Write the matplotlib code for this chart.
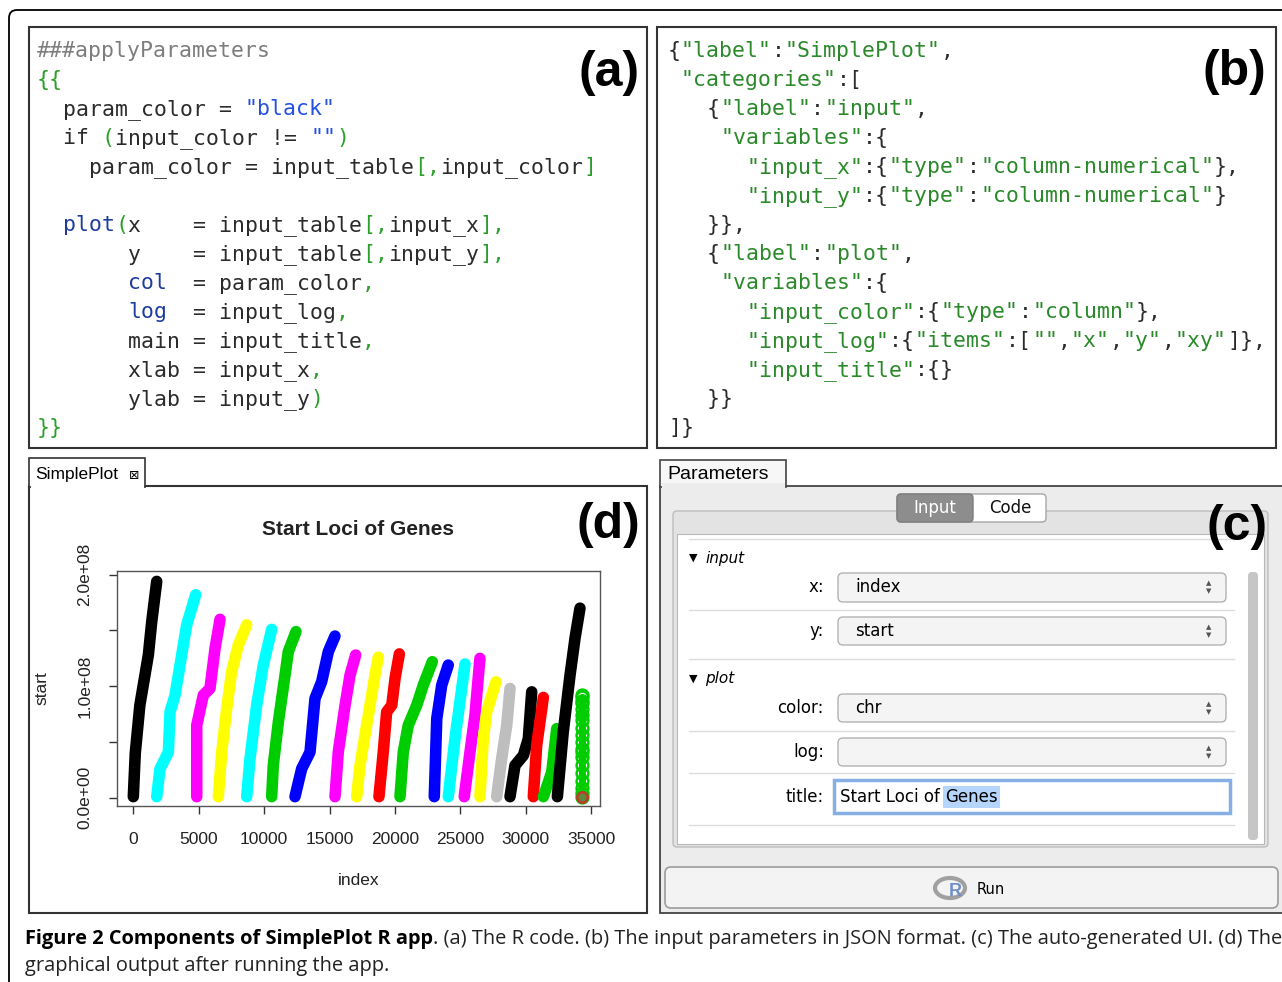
import re
import matplotlib
matplotlib.use("Agg")
import matplotlib.pyplot as plt
from matplotlib.patches import Rectangle, FancyBboxPatch, Ellipse

plt.rcParams['font.family'] = ['Liberation Sans', 'DejaVu Sans']

W, H = 1282, 982

# ---- panel (a): the R code, as (text, colour-key) runs per line
r_code = [
    [("###applyParameters", "c")],
    [("{{", "g")],
    [("  param_color = ", "t"), ('"black"', "s")],
    [("  if ", "t"), ("(", "g"), ("input_color != ", "t"), ('""', "s"), (")", "g")],
    [("    param_color = input_table", "t"), ("[,", "g"), ("input_color", "t"), ("]", "g")],
    [],
    [("  ", "t"), ("plot", "k"), ("(", "g"), ("x    = input_table", "t"), ("[,", "g"),
     ("input_x", "t"), ("],", "g")],
    [("       y    = input_table", "t"), ("[,", "g"), ("input_y", "t"), ("],", "g")],
    [("       ", "t"), ("col", "k"), ("  = param_color", "t"), (",", "g")],
    [("       ", "t"), ("log", "k"), ("  = input_log", "t"), (",", "g")],
    [("       main = input_title", "t"), (",", "g")],
    [("       xlab = input_x", "t"), (",", "g")],
    [("       ylab = input_y", "t"), (")", "g")],
    [("}}", "g")],
]

# ---- panel (b): the JSON parameters
json_lines = [
    '{"label":"SimplePlot",',
    ' "categories":[',
    '   {"label":"input",',
    '    "variables":{',
    '      "input_x":{"type":"column-numerical"},',
    '      "input_y":{"type":"column-numerical"}',
    '   }},',
    '   {"label":"plot",',
    '    "variables":{',
    '      "input_color":{"type":"column"},',
    '      "input_log":{"items":["","x","y","xy"]},',
    '      "input_title":{}',
    '   }}',
    ']}',
]

# ---- panel (d): gene start loci per chromosome (index, start in Mb)
chr_colors = ['black', 'cyan', 'magenta', 'yellow', 'cyan', '#00cd00', 'blue', 'magenta',
              'yellow', 'red', '#00cd00', 'blue', 'cyan', 'magenta', 'yellow', '#bebebe',
              'black', 'red', '#00cd00', 'black']
chr_index = [
    [0, 150, 500, 1150, 1410, 1790],
    [1790, 2040, 2680, 2810, 3190, 3570, 4080, 4770],
    [4850, 4850, 5350, 5860, 6250, 6630],
    [6500, 6760, 7140, 7520, 8030, 8670],
    [8670, 8920, 9430, 9940, 10580],
    [10580, 10700, 11090, 11600, 11850, 12440],
    [12360, 12870, 13510, 13890, 14400, 14910, 15420],
    [15420, 15670, 16190, 16570, 17000],
    [17080, 17330, 17970, 18480, 18730],
    [18780, 19110, 19370, 19760, 20010, 20340],
    [20390, 20640, 21020, 21670, 22170, 22860],
    [23010, 23200, 23580, 24080],
    [24080, 24590, 25360],
    [25300, 25740, 26120, 26500],
    [26500, 26760, 27020, 27730],
    [27780, 28160, 28550, 28800],
    [28800, 29180, 29820, 30200, 30460],
    [30580, 30840, 31350],
    [31350, 31990, 32370],
    [32420, 32870, 33390, 33770, 34150],
]
chr_start_mb = [
    [1, 40, 83, 128, 158, 194],
    [1, 26, 41, 77, 92, 119, 155, 182],
    [1, 65, 92, 98, 134, 160],
    [1, 41, 80, 113, 137, 155],
    [1, 35, 83, 119, 151],
    [1, 29, 68, 110, 131, 149],
    [1, 26, 41, 89, 104, 131, 145],
    [1, 41, 83, 110, 128],
    [1, 29, 74, 110, 126],
    [1, 41, 77, 83, 107, 129],
    [1, 41, 65, 83, 101, 122],
    [1, 71, 101, 119],
    [1, 53, 120],
    [1, 41, 74, 125],
    [1, 53, 77, 104],
    [1, 35, 65, 98],
    [1, 29, 38, 53, 95],
    [1, 47, 90],
    [1, 23, 62],
    [1, 59, 110, 143, 170],
]
# last (sparse) chromosome drawn as open circles, and the single red point under it
last_index = 34290
last_start_mb = [92, 90, 87, 85, 80, 74, 70, 63, 56, 50, 44, 41, 37, 29, 22, 15, 9, 4, 1]
mt_index = 34310
mt_start_mb = 1

x_ticks = [0, 5000, 10000, 15000, 20000, 25000, 30000, 35000]
y_ticks = [0, 5e7, 1e8, 1.5e8, 2e8]
y_tick_labels = ['0.0e+00', '', '1.0e+08', '', '2.0e+08']

# ---- panel (c): generated UI
field_labels = ['x:', 'y:', 'color:', 'log:', 'title:']
field_values = ['index', 'start', 'chr', '', 'Start Loci of Genes']
group_names = ['input', 'plot']

caption_bold = "Figure 2 Components of SimplePlot R app"
caption_rest = (". (a) The R code. (b) The input parameters in JSON format. "
                "(c) The auto-generated UI. (d) The")
caption_line2 = "graphical output after running the app."

code_cols = {"c": "#7d7d7d", "g": "#2aa02a", "t": "#2b2b2b", "s": "#2450e0", "k": "#1d3c9e"}

fig = plt.figure(figsize=(W / 100, H / 100), dpi=100)
bg = fig.add_axes([0, 0, 1, 1])
bg.set_xlim(0, W)
bg.set_ylim(H, 0)
bg.axis('off')


def box(x0, y0, x1, y1, fc='none', ec='#333333', lw=1.5, r=0, z=1):
    if r:
        p = FancyBboxPatch((x0, y0), x1 - x0, y1 - y0, boxstyle=f"round,pad=0,rounding_size={r}",
                           fc=fc, ec=ec, lw=lw, zorder=z)
    else:
        p = Rectangle((x0, y0), x1 - x0, y1 - y0, fc=fc, ec=ec, lw=lw, zorder=z)
    bg.add_patch(p)
    return p


mono = dict(family='DejaVu Sans Mono', fontsize=15.5, va='baseline', ha='left', zorder=5)
CW = 13.0

# outer frame
box(9, 10, 1310, 1010, ec='black', lw=1.3, r=8)

# (a) R code
box(29, 27, 647, 448, fc='white')
for k, line in enumerate(r_code):
    col = 0
    for txt, key in line:
        bg.text(37 + col * CW, 57 + 29 * k, txt, color=code_cols[key], **mono)
        col += len(txt)
bg.text(609, 73, '(a)', fontsize=36, fontweight='bold', ha='center', va='center', zorder=6)

# (b) JSON
box(657, 27, 1276, 448, fc='white')
for k, line in enumerate(json_lines):
    for m in re.finditer(r'"[^"]*"|[^"]+', line):
        tok = m.group(0)
        c = '#2a8a2a' if tok.startswith('"') else '#2b2b2b'
        bg.text(668 + m.start() * CW, 57 + 29 * k, tok, color=c, **mono)
bg.text(1234, 72, '(b)', fontsize=36, fontweight='bold', ha='center', va='center', zorder=6)

# (d) plot window
box(29, 486, 647, 913, fc='white')
box(29, 458, 145, 487, fc='white', lw=1.2, z=2)
bg.add_patch(Rectangle((30.5, 483), 113, 6, fc='white', ec='none', zorder=3))
bg.text(35, 474, 'SimplePlot', fontsize=12.5, va='center', ha='left', zorder=4)
bg.text(134, 475, '\u22a0', family='DejaVu Sans', fontsize=9, va='center', ha='center', zorder=4)

ax = fig.add_axes([116.7 / W, 1 - 805.5 / H, (600 - 116.7) / W, (805.5 - 571) / H])
for c, xs, ys in zip(chr_colors, chr_index, chr_start_mb):
    ax.plot(xs, [v * 1e6 for v in ys], color=c, lw=8.3,
            solid_capstyle='round', solid_joinstyle='round')
ax.plot([last_index, last_index], [last_start_mb[-1] * 1e6, last_start_mb[1] * 1e6],
        color='#00cd00', lw=5, solid_capstyle='round')
ax.plot([last_index] * len(last_start_mb), [v * 1e6 for v in last_start_mb], ls='none',
        marker='o', ms=8.5, mfc='none', mec='#00cd00', mew=1.8)
ax.plot([mt_index], [mt_start_mb * 1e6], ls='none', marker='o', ms=7.5,
        mfc='#5a8a3a', mec='#c0392b', mew=1.8)
ax.set_xlim(-1270, 35680)
ax.set_ylim(-6.9e6, 2.033e8)
ax.set_xticks(x_ticks)
ax.set_xticklabels([str(v) for v in x_ticks])
ax.set_yticks(y_ticks)
ax.set_yticklabels(y_tick_labels, rotation=90, va='center')
for s in ax.spines.values():
    s.set_color('#555555')
    s.set_linewidth(1.0)
ax.tick_params(direction='out', length=5.5, width=1, color='#333333', labelsize=12.5,
               pad=12, labelcolor='#222222')
ax.tick_params(axis='x', pad=13.5)
ax.set_title('Start Loci of Genes', fontsize=15, fontweight='bold', pad=26, color='#222222')
ax.set_xlabel('index', fontsize=12.5, labelpad=19, color='#222222')
ax.set_ylabel('start', fontsize=12.5, labelpad=20, color='#222222')
bg.text(608, 525, '(d)', fontsize=36, fontweight='bold', ha='center', va='center', zorder=6)

# (c) parameters panel
box(660, 486, 1310, 913, fc='#ececec', ec='#444444', lw=1.3)
box(660, 460, 786, 487, fc='#f7f7f7', ec='#444444', lw=1.2, z=2)
bg.add_patch(Rectangle((661.5, 483), 123, 6, fc='#ececec', ec='none', zorder=3))
bg.text(667, 474, 'Parameters', fontsize=14, va='center', ha='left', zorder=4)

box(673, 511, 1268, 847, fc='#e3e3e3', ec='#bdbdbd', lw=1.0, r=4, z=2)
box(677, 534, 1264, 844, fc='white', ec='#b8b8b8', lw=0.8, z=2)
box(1248, 572, 1258, 840, fc='#c6c6c6', ec='none', r=4, z=3)

box(897, 494, 1046, 522, fc='white', ec='#a6a6a6', lw=1.0, r=4, z=4)
box(897, 494, 973, 522, fc='#8d8d8d', ec='#7c7c7c', lw=1.0, r=4, z=4)
bg.text(935, 508, 'Input', family='DejaVu Sans', fontsize=12, color='white',
        ha='center', va='center', zorder=5)
bg.text(1010, 508, 'Code', family='DejaVu Sans', fontsize=12, color='#111111',
        ha='center', va='center', zorder=5)
bg.text(1237, 527, '(c)', fontsize=36, fontweight='bold', ha='center', va='center', zorder=6)

for y in [539, 610, 659, 731, 773, 825]:
    bg.plot([689, 1234], [y, y], color='#dcdcdc', lw=1, zorder=3)
for name, y in zip(group_names, [558, 679]):
    bg.text(693, y, '\u25bc', family='DejaVu Sans', fontsize=8, ha='center', va='center', zorder=4)
    bg.text(705, y, name, family='DejaVu Sans', fontsize=11, style='italic',
            ha='left', va='center', zorder=4)

label_y = [587, 631, 708, 752, 797]
combo_y = [(573, 602), (617, 645), (694, 722), (738, 766)]
for lab, y in zip(field_labels, label_y):
    bg.text(824, y, lab, family='DejaVu Sans', fontsize=12, ha='right', va='center', zorder=4)
for val, (y0, y1) in zip(field_values[:4], combo_y):
    box(838, y0, 1226, y1, fc='#f4f4f4', ec='#b2b2b2', lw=1.0, r=5, z=3)
    bg.text(855, (y0 + y1) / 2, val, family='DejaVu Sans', fontsize=12, ha='left',
            va='center', zorder=4)
    bg.text(1209, (y0 + y1) / 2 - 4, '\u25b2', family='DejaVu Sans', fontsize=5,
            ha='center', va='center', color='#555555', zorder=4)
    bg.text(1209, (y0 + y1) / 2 + 4, '\u25bc', family='DejaVu Sans', fontsize=5,
            ha='center', va='center', color='#555555', zorder=4)

box(834, 780, 1230, 813, fc='white', ec='#86afe6', lw=2.5, z=3)
title_words = field_values[4].rsplit(' ', 1)
t_a = bg.text(840, 797, title_words[0] + ' ', family='DejaVu Sans', fontsize=12,
              ha='left', va='center', zorder=5)

box(665, 867, 1278, 908, fc='#f3f3f3', ec='#9c9c9c', lw=1.2, r=6, z=3)
bg.add_patch(Ellipse((950, 888), 30, 20, fc='none', ec='#a0a0a0', lw=3, zorder=4))
bg.text(955, 892, 'R', fontsize=13, fontweight='bold', color='#6f8fc8', ha='center',
        va='center', zorder=5)
bg.text(977, 889, 'Run', family='DejaVu Sans', fontsize=10.5, ha='left', va='center', zorder=5)

# caption
c1 = bg.text(25, 939, caption_bold, family='Open Sans', fontweight='bold', fontsize=12,
             ha='left', va='center', zorder=5)
c2 = bg.text(0, 939, caption_rest, family='Open Sans', fontsize=12, color='#222222',
             ha='left', va='center', zorder=5)
c3 = bg.text(25, 966, caption_line2, family='Open Sans', fontsize=12, color='#222222',
             ha='left', va='center', zorder=5)

fig.canvas.draw()
r = fig.canvas.get_renderer()
wtot = c1.get_window_extent(r).width + c2.get_window_extent(r).width
fs = 12 * 1253 / wtot
for t in (c1, c2, c3):
    t.set_fontsize(fs)
fig.canvas.draw()
c2.set_x(c1.get_window_extent(r).x1)
tb = t_a.get_window_extent(r)
bg.text(tb.x1, 797, title_words[1], family='DejaVu Sans', fontsize=12, ha='left', va='center',
        zorder=5, bbox=dict(fc='#b5d5fd', ec='none', pad=1.5))

fig.savefig('out.png', dpi=100)
